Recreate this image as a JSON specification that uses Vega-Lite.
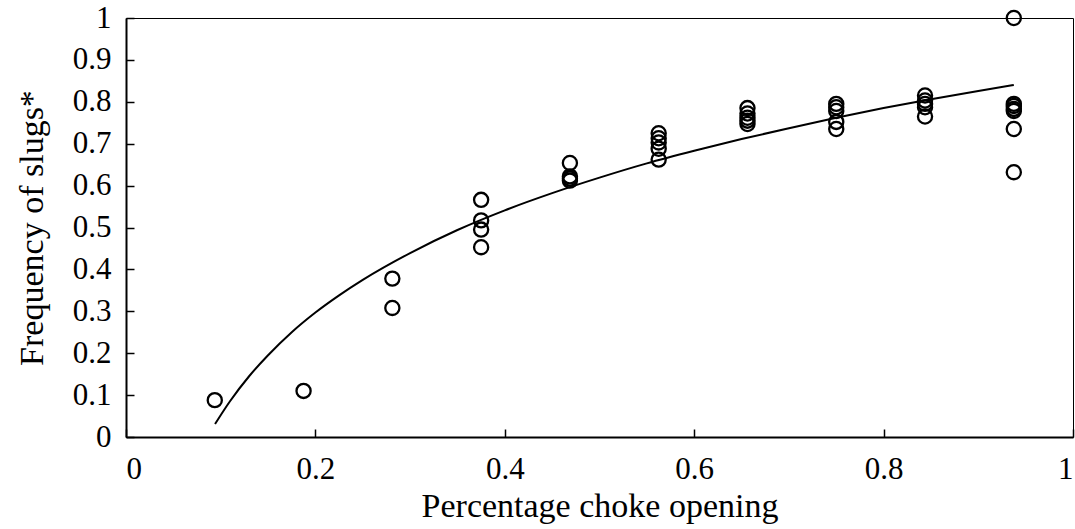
{
  "$schema": "https://vega.github.io/schema/vega-lite/v6.json",
  "width": 947,
  "height": 419,
  "autosize": {"type": "none"},
  "padding": {"left": 126, "top": 18, "right": 2, "bottom": 92},
  "background": "white",
  "config": {
    "font": "Liberation Serif",
    "view": {"stroke": "#000", "strokeWidth": 1},
    "axis": {
      "labelFont": "Liberation Serif",
      "titleFont": "Liberation Serif",
      "labelFontSize": 31,
      "titleFontSize": 34,
      "titleFontWeight": "normal",
      "labelColor": "#000",
      "titleColor": "#000",
      "domainColor": "#000",
      "domainWidth": 2,
      "tickColor": "#000",
      "tickWidth": 1.5,
      "grid": false
    }
  },
  "datasets": {
    "obs": [
      {"x": 0.09375, "y": 0.088},
      {"x": 0.1875, "y": 0.11},
      {"x": 0.28125, "y": 0.378},
      {"x": 0.28125, "y": 0.308},
      {"x": 0.375, "y": 0.566},
      {"x": 0.375, "y": 0.517},
      {"x": 0.375, "y": 0.495},
      {"x": 0.375, "y": 0.453},
      {"x": 0.46875, "y": 0.654},
      {"x": 0.46875, "y": 0.622},
      {"x": 0.46875, "y": 0.617},
      {"x": 0.46875, "y": 0.612},
      {"x": 0.5625, "y": 0.725},
      {"x": 0.5625, "y": 0.713},
      {"x": 0.5625, "y": 0.703},
      {"x": 0.5625, "y": 0.688},
      {"x": 0.5625, "y": 0.662},
      {"x": 0.65625, "y": 0.785},
      {"x": 0.65625, "y": 0.772},
      {"x": 0.65625, "y": 0.762},
      {"x": 0.65625, "y": 0.755},
      {"x": 0.65625, "y": 0.747},
      {"x": 0.75, "y": 0.795},
      {"x": 0.75, "y": 0.787},
      {"x": 0.75, "y": 0.778},
      {"x": 0.75, "y": 0.752},
      {"x": 0.75, "y": 0.735},
      {"x": 0.84375, "y": 0.815},
      {"x": 0.84375, "y": 0.803},
      {"x": 0.84375, "y": 0.795},
      {"x": 0.84375, "y": 0.787},
      {"x": 0.84375, "y": 0.765},
      {"x": 0.9375, "y": 1.0},
      {"x": 0.9375, "y": 0.795},
      {"x": 0.9375, "y": 0.79},
      {"x": 0.9375, "y": 0.783},
      {"x": 0.9375, "y": 0.778},
      {"x": 0.9375, "y": 0.735},
      {"x": 0.9375, "y": 0.632}
    ],
    "fit": [
      {"x": 0.094, "y": 0.031},
      {"x": 0.11, "y": 0.086},
      {"x": 0.13, "y": 0.145},
      {"x": 0.15, "y": 0.195},
      {"x": 0.175, "y": 0.25},
      {"x": 0.2, "y": 0.297},
      {"x": 0.225, "y": 0.338},
      {"x": 0.25, "y": 0.375},
      {"x": 0.3, "y": 0.439},
      {"x": 0.35, "y": 0.494},
      {"x": 0.4, "y": 0.541},
      {"x": 0.45, "y": 0.582},
      {"x": 0.5, "y": 0.619},
      {"x": 0.55, "y": 0.653},
      {"x": 0.6, "y": 0.683},
      {"x": 0.65, "y": 0.711},
      {"x": 0.7, "y": 0.737},
      {"x": 0.75, "y": 0.762},
      {"x": 0.8, "y": 0.785},
      {"x": 0.85, "y": 0.806},
      {"x": 0.9, "y": 0.826},
      {"x": 0.9375, "y": 0.84}
    ]
  },
  "layer": [
    {
      "data": {"name": "fit"},
      "mark": {"type": "line", "color": "#000", "strokeWidth": 2, "interpolate": "monotone"},
      "encoding": {
        "x": {
          "field": "x", "type": "quantitative",
          "scale": {"domain": [0, 1], "nice": false, "zero": false},
          "axis": {"title": "Percentage choke opening", "values": [0, 0.2, 0.4, 0.6, 0.8, 1], "format": "~g", "tickSize": -8, "labelPadding": 25, "titlePadding": 5}
        },
        "y": {
          "field": "y", "type": "quantitative",
          "scale": {"domain": [0, 1], "nice": false, "zero": false},
          "axis": {"title": "Frequency of slugs*", "values": [0, 0.1, 0.2, 0.3, 0.4, 0.5, 0.6, 0.7, 0.8, 0.9, 1], "format": "~g", "tickSize": -8, "labelPadding": 23, "titlePadding": 23}
        }
      }
    },
    {
      "data": {"name": "obs"},
      "mark": {"type": "point", "shape": "circle", "filled": false, "color": "#000", "strokeWidth": 2.3, "size": 200, "opacity": 1},
      "encoding": {
        "x": {"field": "x", "type": "quantitative"},
        "y": {"field": "y", "type": "quantitative"}
      }
    }
  ]
}
